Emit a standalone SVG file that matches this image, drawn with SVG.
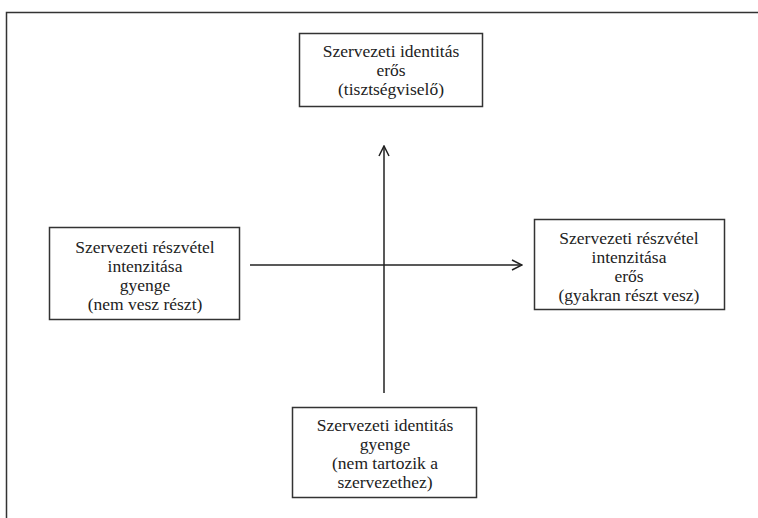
<svg xmlns="http://www.w3.org/2000/svg" width="758" height="518" viewBox="0 0 758 518">
<style>
.box{fill:#fff;stroke:#333;stroke-width:1.5}
.t{font-family:"Liberation Serif","Times New Roman",serif;font-size:17.5px;fill:#222;text-anchor:middle}
.c{stroke:#222;stroke-width:1.5;fill:none}
</style>
<defs>
<marker id="arr" viewBox="0 0 12 12" refX="11" refY="6" markerWidth="12" markerHeight="12" markerUnits="userSpaceOnUse" orient="auto">
<path d="M1,1 L11,6 L1,11" fill="none" stroke="#222" stroke-width="1.5"/>
</marker>
</defs>
<rect width="758" height="518" fill="#fff"/>
<path d="M6.5,518 V12.5 H758" fill="none" stroke="#333" stroke-width="1.5"/>
<g id="connectors">
<line class="c" x1="384" y1="393" x2="384" y2="146" marker-end="url(#arr)"/>
<line class="c" x1="250" y1="265" x2="522" y2="265" marker-end="url(#arr)"/>
</g>
<g id="top">
<rect class="box" x="299.5" y="33.5" width="183" height="73"/>
<text class="t" x="391" y="57">Szervezeti identitás</text>
<text class="t" x="391" y="76">erős</text>
<text class="t" x="391" y="95">(tisztségviselő)</text>
</g>
<g id="left">
<rect class="box" x="49.5" y="227.5" width="190" height="92"/>
<text class="t" x="145" y="253">Szervezeti részvétel</text>
<text class="t" x="145" y="272">intenzitása</text>
<text class="t" x="145" y="291">gyenge</text>
<text class="t" x="145" y="310">(nem vesz részt)</text>
</g>
<g id="right">
<rect class="box" x="534.5" y="219.5" width="190" height="90"/>
<text class="t" x="629" y="244">Szervezeti részvétel</text>
<text class="t" x="629" y="263">intenzitása</text>
<text class="t" x="629" y="282">erős</text>
<text class="t" x="629" y="301">(gyakran részt vesz)</text>
</g>
<g id="bottom">
<rect class="box" x="292.5" y="407.5" width="184" height="90"/>
<text class="t" x="385" y="431">Szervezeti identitás</text>
<text class="t" x="385" y="450">gyenge</text>
<text class="t" x="385" y="469">(nem tartozik a</text>
<text class="t" x="385" y="488">szervezethez)</text>
</g>
</svg>
